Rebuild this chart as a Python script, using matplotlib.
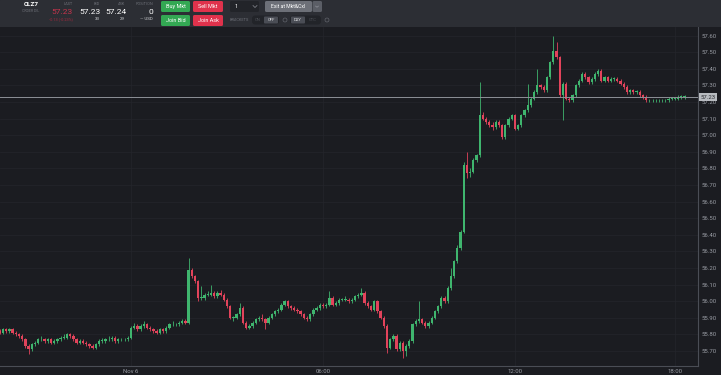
import numpy as np
import matplotlib
matplotlib.use('Agg')
import matplotlib.pyplot as plt
from matplotlib.patches import FancyBboxPatch, Rectangle, Circle

plt.rcParams['font.family'] = ['Roboto', 'DejaVu Sans']

# CLZ7, 6-minute bars from Nov 5 evening to Nov 6 ~18:20
closes = [
    55.81, 55.83, 55.82, 55.83, 55.81, 55.80, 55.79, 55.77, 55.73, 55.71,
    55.74, 55.75, 55.77, 55.77, 55.76, 55.77, 55.75, 55.76, 55.77, 55.78,
    55.78, 55.80, 55.79, 55.77, 55.75, 55.76, 55.75, 55.74, 55.73, 55.72,
    55.74, 55.76, 55.76, 55.77, 55.77, 55.78, 55.76, 55.77, 55.77, 55.77,
    55.78, 55.84, 55.85, 55.83, 55.85, 55.86, 55.84, 55.83, 55.82, 55.81,
    55.83, 55.82, 55.84, 55.86, 55.86, 55.86, 55.87, 55.88, 55.87, 56.19,
    56.15, 56.12, 56.02, 56.02, 56.04, 56.04, 56.05, 56.03, 56.05, 56.04,
    56.01, 55.97, 55.90, 55.90, 55.92, 55.96, 55.87, 55.84, 55.85, 55.87,
    55.89, 55.90, 55.89, 55.87, 55.90, 55.92, 55.94, 55.95, 55.98, 56.00,
    55.97, 55.96, 55.95, 55.94, 55.92, 55.90, 55.89, 55.92, 55.95, 55.96,
    55.98, 55.97, 55.98, 56.02, 55.98, 55.99, 56.01, 56.01, 56.01, 56.00,
    56.01, 56.03, 56.04, 56.05, 55.99, 55.97, 55.95, 56.00, 55.94, 55.90,
    55.85, 55.72, 55.77, 55.79, 55.71, 55.75, 55.70, 55.73, 55.76, 55.86,
    55.88, 55.89, 55.87, 55.85, 55.87, 55.90, 55.94, 55.97, 56.02, 56.00,
    56.08, 56.15, 56.24, 56.32, 56.42, 56.82, 56.77, 56.78, 56.85, 56.88,
    57.12, 57.10, 57.08, 57.06, 57.05, 57.08, 57.06, 56.99, 57.06, 57.10,
    57.12, 57.04, 57.06, 57.12, 57.15, 57.18, 57.22, 57.26, 57.30, 57.29,
    57.27, 57.35, 57.44, 57.51, 57.47, 57.24, 57.31, 57.22, 57.21, 57.24,
    57.30, 57.33, 57.37, 57.35, 57.32, 57.34, 57.37, 57.39, 57.33, 57.35,
    57.33, 57.34, 57.34, 57.33, 57.31, 57.29, 57.26, 57.27, 57.26, 57.26,
    57.24, 57.23, 57.21, 57.21, 57.21, 57.21, 57.21, 57.21, 57.21, 57.22,
    57.22, 57.22, 57.23, 57.23, 57.23]
highs = [
    55.83, 55.84, 55.84, 55.84, 55.84, 55.82, 55.81, 55.80, 55.78, 55.74,
    55.75, 55.76, 55.78, 55.79, 55.78, 55.78, 55.78, 55.77, 55.78, 55.79,
    55.80, 55.81, 55.81, 55.80, 55.78, 55.77, 55.77, 55.76, 55.75, 55.74,
    55.75, 55.77, 55.78, 55.78, 55.79, 55.79, 55.79, 55.78, 55.78, 55.78,
    55.79, 55.85, 55.87, 55.86, 55.86, 55.88, 55.87, 55.85, 55.84, 55.83,
    55.84, 55.84, 55.85, 55.87, 55.88, 55.87, 55.88, 55.89, 55.89, 56.26,
    56.20, 56.16, 56.13, 56.09, 56.05, 56.06, 56.10, 56.06, 56.06, 56.07,
    56.05, 56.02, 55.98, 55.91, 55.93, 55.99, 55.97, 55.88, 55.86, 55.88,
    55.90, 55.91, 55.92, 55.90, 55.91, 55.93, 55.95, 55.96, 55.99, 56.01,
    56.01, 55.98, 55.97, 55.96, 55.95, 55.93, 55.91, 55.93, 55.96, 55.97,
    55.99, 55.99, 55.99, 56.06, 56.03, 56.00, 56.02, 56.02, 56.03, 56.02,
    56.02, 56.04, 56.05, 56.08, 56.06, 56.00, 55.98, 56.01, 56.01, 55.95,
    55.91, 55.86, 55.78, 55.80, 55.80, 55.76, 55.76, 55.74, 55.77, 55.87,
    55.89, 56.00, 55.90, 55.88, 55.88, 55.91, 55.95, 55.98, 56.03, 56.03,
    56.09, 56.20, 56.25, 56.34, 56.43, 56.84, 56.90, 56.80, 56.86, 56.89,
    57.32, 57.14, 57.11, 57.09, 57.08, 57.09, 57.09, 57.07, 57.07, 57.11,
    57.13, 57.13, 57.07, 57.13, 57.16, 57.31, 57.23, 57.27, 57.40, 57.31,
    57.30, 57.36, 57.45, 57.60, 57.56, 57.48, 57.32, 57.32, 57.23, 57.25,
    57.31, 57.34, 57.38, 57.38, 57.36, 57.35, 57.38, 57.40, 57.40, 57.36,
    57.36, 57.35, 57.35, 57.35, 57.34, 57.32, 57.30, 57.28, 57.28, 57.27,
    57.27, 57.25, 57.24, 57.22, 57.22, 57.22, 57.22, 57.22, 57.22, 57.23,
    57.23, 57.23, 57.24, 57.24, 57.24]
lows = [
    55.80, 55.80, 55.81, 55.81, 55.80, 55.79, 55.78, 55.76, 55.72, 55.68,
    55.70, 55.73, 55.74, 55.76, 55.75, 55.75, 55.74, 55.74, 55.75, 55.76,
    55.77, 55.77, 55.78, 55.76, 55.74, 55.74, 55.74, 55.73, 55.72, 55.71,
    55.71, 55.73, 55.75, 55.75, 55.76, 55.76, 55.75, 55.75, 55.76, 55.76,
    55.76, 55.77, 55.83, 55.82, 55.82, 55.84, 55.83, 55.82, 55.81, 55.80,
    55.80, 55.81, 55.81, 55.83, 55.85, 55.85, 55.85, 55.86, 55.86, 55.86,
    56.14, 56.11, 56.00, 56.01, 56.01, 56.03, 56.03, 56.02, 56.02, 56.03,
    56.00, 55.96, 55.89, 55.88, 55.89, 55.91, 55.86, 55.83, 55.83, 55.84,
    55.86, 55.88, 55.88, 55.83, 55.86, 55.89, 55.91, 55.93, 55.94, 55.97,
    55.96, 55.95, 55.94, 55.93, 55.91, 55.89, 55.88, 55.88, 55.91, 55.94,
    55.95, 55.96, 55.96, 55.97, 55.97, 55.97, 55.98, 56.00, 56.00, 55.99,
    55.99, 56.00, 56.02, 56.03, 55.98, 55.96, 55.94, 55.94, 55.93, 55.89,
    55.84, 55.69, 55.71, 55.76, 55.70, 55.70, 55.66, 55.67, 55.72, 55.75,
    55.85, 55.87, 55.86, 55.84, 55.84, 55.86, 55.89, 55.93, 55.96, 55.99,
    55.99, 56.07, 56.14, 56.23, 56.31, 56.41, 56.74, 56.75, 56.77, 56.84,
    56.87, 57.09, 57.07, 57.05, 57.03, 57.04, 57.05, 56.98, 56.98, 57.05,
    57.09, 57.03, 57.03, 57.05, 57.11, 57.14, 57.17, 57.21, 57.25, 57.28,
    57.26, 57.26, 57.34, 57.43, 57.46, 57.23, 57.09, 57.21, 57.20, 57.20,
    57.23, 57.29, 57.32, 57.34, 57.31, 57.31, 57.33, 57.36, 57.32, 57.32,
    57.32, 57.32, 57.33, 57.32, 57.30, 57.28, 57.25, 57.25, 57.25, 57.25,
    57.23, 57.22, 57.20, 57.20, 57.20, 57.20, 57.20, 57.20, 57.20, 57.20,
    57.21, 57.21, 57.21, 57.22, 57.22]
first_open = 55.82
opens = [first_open] + closes[:-1]   # continuous session: open = prior close

last_price = 57.23
price_ticks = [55.70, 55.80, 55.90, 56.00, 56.10, 56.20, 56.30, 56.40, 56.50,
               56.60, 56.70, 56.80, 56.90, 57.00, 57.10, 57.20, 57.30, 57.40,
               57.50, 57.60]
time_labels = ['Nov 6', '06:00', '12:00', '18:00']
time_label_bars = [41, 101, 161, 211]

bg = '#1b1c21'
green = '#3fb56e'
red = '#e2435b'
txt = '#9a9da5'

fig = plt.figure(figsize=(7.21, 3.75), dpi=100, facecolor=bg)
ax = fig.add_axes([0, 9/375, 698/721, 339/375])
ax.set_facecolor(bg)

o = np.array(opens); c = np.array(closes)
hi = np.array(highs); lo = np.array(lows)
x = np.arange(len(c))
cols = np.where(c >= o, green, red)
ax.vlines(x, lo, hi, color=cols, lw=0.6, zorder=3)
body = np.maximum(np.abs(c - o), 0.004)
ax.bar(x, body, bottom=np.minimum(o, c), width=0.7, color=cols, lw=0, zorder=4)

ax.axhline(last_price, color='#8d9097', lw=0.7, zorder=5)

ax.set_xlim(0.06, 218.2)
ax.set_ylim(55.6096, 57.6524)

ax.yaxis.tick_right()
ax.set_yticks(price_ticks)
ax.set_yticklabels(['%.2f' % p for p in price_ticks])
ax.set_xticks(time_label_bars)
ax.set_xticklabels(time_labels)
ax.tick_params(axis='both', length=0, labelsize=4.3, colors=txt)
ax.tick_params(axis='y', pad=2.5)
ax.tick_params(axis='x', pad=2.5)
ax.grid(True, color='#24262c', lw=0.5, zorder=0)
for s in ['top', 'left']:
    ax.spines[s].set_visible(False)
for s in ['right', 'bottom']:
    ax.spines[s].set_color('#4a4d55')
    ax.spines[s].set_linewidth(0.8)

ax.text(1.003, last_price, '%.2f' % last_price, transform=ax.get_yaxis_transform(),
        fontsize=4.3, color='#2a2c31', va='center', ha='left', zorder=6,
        bbox=dict(boxstyle='square,pad=0.25', fc='#b8bbc0', ec='none'))

# header / order bar
hax = fig.add_axes([0, 1 - 27/375, 1, 27/375])
hax.set_xlim(0, 721); hax.set_ylim(27, 0); hax.axis('off')
hax.add_patch(Rectangle((0, 0), 721, 27, color='#2c2e34'))

hax.text(31, 4.5, 'CLZ7', color='white', fontsize=4.6, ha='center', va='center', weight='bold')
hax.text(31, 10.5, 'ORDER DIL', color='#6c6f77', fontsize=2.6, ha='center', va='center')
hax.text(73, 4, 'LAST', color='#6c6f77', fontsize=2.8, ha='right', va='center')
hax.text(73, 12.5, '57.23', color='#c8344c', fontsize=6.0, ha='right', va='center')
hax.text(73, 19.5, '-0.13 (-0.23%)', color='#a52a3f', fontsize=2.8, ha='right', va='center')
hax.text(100, 4, 'BID', color='#6c6f77', fontsize=2.8, ha='right', va='center')
hax.text(101, 12.5, '57.23', color='white', fontsize=6.0, ha='right', va='center')
hax.text(100, 19.5, '33', color='#d0d2d6', fontsize=3.2, ha='right', va='center')
hax.text(125, 4, 'ASK', color='#6c6f77', fontsize=2.8, ha='right', va='center')
hax.text(126, 12.5, '57.24', color='white', fontsize=6.0, ha='right', va='center')
hax.text(125, 19.5, '29', color='#d0d2d6', fontsize=3.2, ha='right', va='center')
hax.text(153, 4, 'POSITION', color='#6c6f77', fontsize=2.8, ha='right', va='center')
hax.text(153, 12.5, '0', color='white', fontsize=6.0, ha='right', va='center')
hax.text(153, 19.5, '\u2014 USD', color='#d0d2d6', fontsize=3.2, ha='right', va='center')


def button(x0, y0, w, h, fc, label, tc='white', fs=4.0):
    hax.add_patch(FancyBboxPatch((x0, y0), w, h, boxstyle='round,pad=0,rounding_size=1.5',
                                 fc=fc, ec='none'))
    hax.text(x0 + w/2, y0 + h/2 + 0.3, label, color=tc, fontsize=fs, ha='center', va='center')


button(161, 1, 29, 11, '#33a853', 'Buy Mkt')
button(193, 1, 30, 11, '#e0324c', 'Sell Mkt')
button(161, 15, 29, 11, '#33a853', 'Join Bid')
button(193, 15, 30, 11, '#e0324c', 'Join Ask')

hax.add_patch(FancyBboxPatch((230, 1), 29, 11, boxstyle='round,pad=0,rounding_size=1.5',
                             fc='#222429', ec='none'))
hax.text(236, 6.8, '1', color='white', fontsize=4.0, ha='center', va='center')
hax.plot([253, 255, 257], [5.5, 7.5, 5.5], color='#8a8d94', lw=0.5)
button(265, 1, 47, 11, '#6d7078', 'Exit at Mkt&Cxl', fs=3.7)
hax.add_patch(FancyBboxPatch((312.5, 1), 9.5, 11, boxstyle='round,pad=0,rounding_size=1.5',
                             fc='#5b5e66', ec='none'))
hax.plot([315.5, 317, 318.5], [6, 7.3, 6], color='#9a9da5', lw=0.4)

hax.text(230, 20, 'BRACKETS', color='#6c6f77', fontsize=2.8, ha='left', va='center')
hax.add_patch(FancyBboxPatch((252, 15.5), 27, 9, boxstyle='round,pad=0,rounding_size=3',
                             fc='#222429', ec='none'))
hax.text(258, 20, 'ON', color='#4e5158', fontsize=3.0, ha='center', va='center')
hax.add_patch(FancyBboxPatch((264, 16.5), 14, 7, boxstyle='round,pad=0,rounding_size=1',
                             fc='#4a4d55', ec='none'))
hax.text(271, 20, 'OFF', color='#e2e3e6', fontsize=3.0, ha='center', va='center')
hax.add_patch(Circle((285, 20), 2.0, fc='none', ec='#6c6f77', lw=0.4))
hax.add_patch(FancyBboxPatch((290, 15.5), 31, 9, boxstyle='round,pad=0,rounding_size=3',
                             fc='#222429', ec='none'))
hax.add_patch(FancyBboxPatch((291, 16.5), 14, 7, boxstyle='round,pad=0,rounding_size=1',
                             fc='#4a4d55', ec='none'))
hax.text(298, 20, 'DAY', color='#e2e3e6', fontsize=3.0, ha='center', va='center')
hax.text(313, 20, 'GTC', color='#4e5158', fontsize=3.0, ha='center', va='center')
hax.add_patch(Circle((327, 20), 2.0, fc='none', ec='#6c6f77', lw=0.4))

fig.savefig('out.png', dpi=100, facecolor=bg)
